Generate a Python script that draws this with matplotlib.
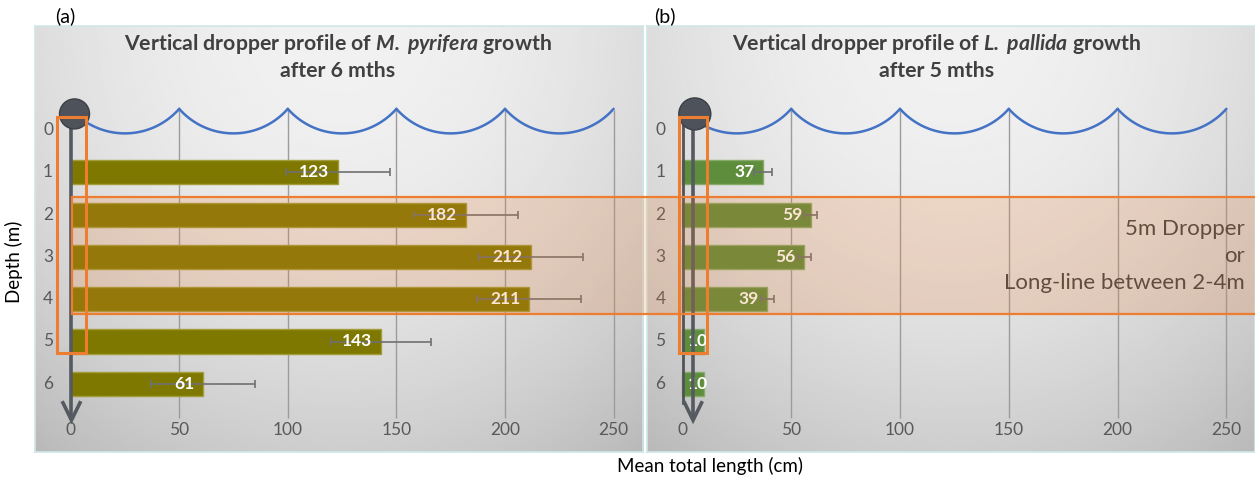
import numpy as np
import matplotlib.pyplot as plt
from matplotlib.patches import Rectangle, Ellipse

plt.rcParams['font.family'] = ['Lato', 'DejaVu Sans']
plt.rcParams['mathtext.fontset'] = 'custom'
plt.rcParams['mathtext.bfit'] = 'Lato:italic:bold'
plt.rcParams['mathtext.bf'] = 'Lato:bold'
plt.rcParams['mathtext.rm'] = 'Lato'

# mean total length per dropper depth
depths = [1, 2, 3, 4, 5, 6]
pyrifera_len = [123, 182, 212, 211, 143, 61]
pyrifera_err = [24, 24, 24, 24, 23, 24]
pallida_len = [37, 59, 56, 39, 10, 10]
pallida_err = [4, 3, 3, 3, 0, 0]

x_ticks = [0, 50, 100, 150, 200, 250]
depth_ticks = [0, 1, 2, 3, 4, 5, 6]

W, H = 1255, 478
fig = plt.figure(figsize=(W / 100, H / 100), dpi=100)
fig.patch.set_facecolor('white')

TXT = '#595959'
DARK = '#404040'


def add_panel(left, right, x0, xscale):
    ax = fig.add_axes([left / W, 1 - 452 / H, (right - left) / W, (452 - 26) / H])
    ax.set_xticks([])
    ax.set_yticks([])
    for s in ax.spines.values():
        s.set_color('#cfe7e7')
        s.set_linewidth(1.2)
    # soft grey gradient background, lightest at the top centre
    u = np.linspace(0, 1, 300)
    v = np.linspace(0, 1, 200)
    U, V = np.meshgrid(u, v)
    grad = 0.945 - 0.08 * (2 * (U - 0.5)) ** 2 - 0.14 * V ** 2
    ax.imshow(grad, cmap='gray', vmin=0, vmax=1, extent=[0, 1, 0, 1],
              transform=ax.transAxes, aspect='auto', zorder=0, interpolation='bilinear')
    ax.set_xlim(-(x0 - left) / xscale, (right - x0) / xscale)
    ax.set_ylim((452 - 130) / 42.3, (26 - 130) / 42.3)
    return ax


def draw_waves(ax, xscale, cusp=-0.5, trough=0.08):
    # circular arcs between the grid positions, a stylised sea surface
    sag = (trough - cusp) * 42.3
    c = 25 * xscale
    R = (c ** 2 + sag ** 2) / (2 * sag)
    a = np.arcsin(c / R)
    th = np.linspace(-a, a, 60)
    for k in range(len(x_ticks) - 1):
        mid = (x_ticks[k] + x_ticks[k + 1]) / 2
        xs = mid + R * np.sin(th) / xscale
        ys = cusp + (sag - R * (1 - np.cos(th))) / 42.3
        ax.plot(xs, ys, color='#4472c4', lw=1.8, zorder=2, solid_capstyle='round')


def draw_axis_text(ax, ylab_x):
    for t in x_ticks:
        ax.text(t, 7.09, str(t), ha='center', va='center', fontsize=12.5, color=TXT, zorder=6)
    for d in depth_ticks:
        ax.text(ylab_x, d, str(d), ha='center', va='center', fontsize=12.5, color=TXT, zorder=6)
    ax.vlines(x_ticks[1:], -0.47, 6.8, color='#9c9c9c', lw=1, zorder=1)


def draw_bars(ax, vals, errs, face, edge):
    ax.barh(depths, vals, height=0.57, color=face, edgecolor=edge, lw=1, zorder=3)
    for d, v, e in zip(depths, vals, errs):
        if e > 0:
            ax.errorbar(v, d, xerr=e, fmt='none', ecolor='#707070', elinewidth=1.2,
                        capsize=3, capthick=1.2, zorder=4)
        ax.text(max(v - 4, 12), d, str(v), ha='right', va='center', color='white',
                fontsize=12.5, fontweight='bold', zorder=5)


def draw_dropper(ax, xscale, rope_x, buoy_x, buoy_y, r, box):
    ax.plot([rope_x, rope_x], [buoy_y, 6.8], color='#555960', lw=2.6, zorder=6)
    hw = 8.5 / xscale
    ax.plot([rope_x - hw, rope_x, rope_x + hw], [6.45, 6.86, 6.45], color='#555960',
            lw=2.6, zorder=6, solid_joinstyle='miter')
    ax.add_patch(Ellipse((buoy_x, buoy_y), 2 * r / xscale, 2 * r / 42.3,
                         facecolor='#4d525b', edgecolor='#3b3f46', lw=1, zorder=7))
    x_l, x_r = box
    ax.add_patch(Rectangle((x_l, -0.31), x_r - x_l, 5.58, facecolor='none',
                           edgecolor='#ed7d31', lw=2.2, zorder=8))


# panel (a)
sa = 2.172
ax_a = add_panel(35, 643, 70.6, sa)
draw_axis_text(ax_a, -10.4)
draw_waves(ax_a, sa)
draw_bars(ax_a, pyrifera_len, pyrifera_err, '#7f7800', '#a29c3a')
draw_dropper(ax_a, sa, 0.4, 1.8, -0.38, 15, (-6.3, 7.1))

# panel (b)
sb = 2.176
ax_b = add_panel(647, 1255, 682.4, sb)
draw_axis_text(ax_b, -10.1)
draw_waves(ax_b, sb)
ax_b.plot([0.3, 0.3], [-0.25, 6.45], color='#505358', lw=2, zorder=6)
draw_bars(ax_b, pallida_len, pallida_err, '#5e8d3c', '#86ab68')
draw_dropper(ax_b, sb, 4.9, 5.7, -0.38, 16, (-1.6, 11.3))

for label, dep in [('5m Dropper', 2.34), ('or', 2.97), ('Long-line between 2-4m', 3.62)]:
    ax_b.text(258.5, dep, label, ha='right', va='center', fontsize=16, color=DARK, zorder=9)

# shaded 2-4 m band running across both panels
band = Rectangle((0.6, 1.58), 600, 2.77, transform=ax_a.transData,
                 facecolor=(0.93, 0.49, 0.19, 0.2), edgecolor='#ed7d31', lw=1.6, zorder=5)
fig.add_artist(band)

# titles
fig.text(338 / W, 1 - 44 / H, r'Vertical dropper profile of $\mathbfit{M.\,pyrifera}$ growth',
         ha='center', va='center', fontsize=15.3, fontweight='bold', color=DARK)
fig.text(338 / W, 1 - 71 / H, 'after 6 mths', ha='center', va='center', fontsize=15.3,
         fontweight='bold', color=DARK)
fig.text(937 / W, 1 - 44 / H, r'Vertical dropper profile of $\mathbfit{L.\,pallida}$ growth',
         ha='center', va='center', fontsize=15.3, fontweight='bold', color=DARK)
fig.text(937 / W, 1 - 71 / H, 'after 5 mths', ha='center', va='center', fontsize=15.3,
         fontweight='bold', color=DARK)

fig.text(65 / W, 1 - 16 / H, '(a)', ha='center', va='center', fontsize=14, color='black')
fig.text(665 / W, 1 - 16 / H, '(b)', ha='center', va='center', fontsize=14, color='black')
fig.text(710 / W, 1 - 466 / H, 'Mean total length (cm)', ha='center', va='center',
         fontsize=13.5, color='black')
fig.text(14 / W, 1 - 262 / H, 'Depth (m)', ha='center', va='center', rotation=90,
         fontsize=13.5, color='black')

fig.savefig('out.png', dpi=100)
